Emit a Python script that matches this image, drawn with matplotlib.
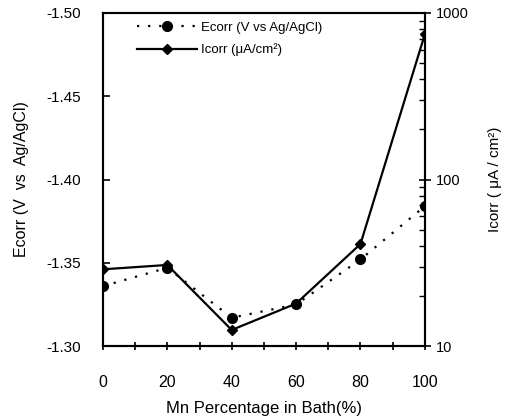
import matplotlib
matplotlib.use("Agg")
from matplotlib import pyplot as plt
from matplotlib.ticker import MultipleLocator, LogLocator, NullFormatter, FixedLocator

plt.rcParams["font.family"] = ["Liberation Sans", "DejaVu Sans"]

mn_percent = [0, 20, 40, 60, 80, 100]
ecorr = [-1.336, -1.347, -1.317, -1.325, -1.352, -1.384]
icorr = [28.9, 30.7, 12.5, 18.0, 41.0, 745.0]

fig = plt.figure(figsize=(5.07, 4.16), dpi=100)
ax = fig.add_axes([0.203, 0.168, 0.635, 0.801])
ax2 = ax.twinx()

l1, = ax.plot(mn_percent, ecorr, color="black", linestyle=(0, (1, 4)), linewidth=1.6,
              marker="o", markersize=7, label="Ecorr (V vs Ag/AgCl)")
l2, = ax2.plot(mn_percent, icorr, color="black", linestyle="-", linewidth=1.6,
               marker="D", markersize=5, label="Icorr (\u03bcA/cm\u00b2)")

ax.set_xlim(0, 100)
ax.set_ylim(-1.30, -1.50)
ax.xaxis.set_major_locator(MultipleLocator(20))
ax.xaxis.set_minor_locator(MultipleLocator(10))
ax.yaxis.set_major_locator(FixedLocator([-1.30, -1.35, -1.40, -1.45, -1.50]))
ax.yaxis.set_major_formatter(matplotlib.ticker.FuncFormatter(lambda v, p: "%.2f" % v))
ax.tick_params(axis="x", which="both", direction="inout", length=6, width=1.2, labelsize=11.5, pad=18, top=False)
ax.tick_params(axis="y", which="both", direction="in", length=5, width=1.2, labelsize=11, pad=16)

ax2.set_yscale("log")
ax2.set_ylim(10, 1000)
ax2.yaxis.set_major_locator(LogLocator(base=10))
ax2.yaxis.set_minor_locator(LogLocator(base=10, subs=range(2, 10)))
ax2.yaxis.set_minor_formatter(NullFormatter())
ax2.yaxis.set_major_formatter(matplotlib.ticker.FuncFormatter(lambda v, p: "%d" % v))
ax2.tick_params(axis="y", which="major", direction="inout", length=8, width=1.2, labelsize=10.5, pad=4)
ax2.tick_params(axis="y", which="minor", direction="in", length=4, width=1.0)

for a in (ax, ax2):
    for s in a.spines.values():
        s.set_linewidth(1.5)

ax.set_xlabel("Mn Percentage in Bath(%)", fontsize=12, labelpad=8)
ax.set_ylabel("Ecorr (V  vs  Ag/AgCl)", fontsize=11.5, labelpad=12)
ax2.set_ylabel("Icorr ( \u03bcA / cm\u00b2)", fontsize=11, labelpad=14)

ax.legend(handles=[l1, l2], loc="upper left", bbox_to_anchor=(0.07, 1.01), frameon=False,
          fontsize=9.5, handlelength=4.5, handletextpad=0.3, labelspacing=0.75)

plt.savefig("out.png", dpi=100)
plt.close()
